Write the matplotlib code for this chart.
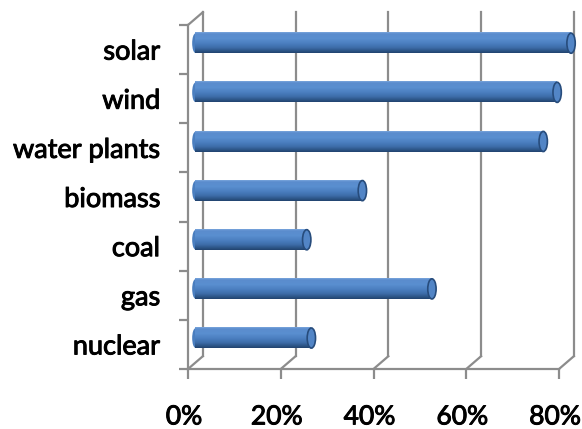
import numpy as np
import matplotlib
matplotlib.use("Agg")
import matplotlib.pyplot as plt
import matplotlib.transforms as mtransforms
import matplotlib.patheffects as pe
from matplotlib.patches import Ellipse
from matplotlib.ticker import FixedLocator

# données (de bas en haut)
categories = ["nuclear", "gas", "coal", "biomass", "water plants", "wind", "solar"]
values = [25, 51, 24, 36, 75, 78, 81]
x_ticks = [0, 20, 40, 60, 80]
x_labels = ["0%", "20%", "40%", "60%", "80%"]

plt.rcParams['font.family'] = ['Lato', 'DejaVu Sans']

W, H = 582, 429
fig = plt.figure(figsize=(W / 100, H / 100), dpi=100)
ax = fig.add_axes([188 / W, 1 - 369 / H, (559 - 188) / W, (369 - 25) / H])

n = len(categories)
y0, y1 = -0.5, n - 0.5
xmax = 80
# profondeur du "3D" en unités de données
dx, dy = 3.2, 0.26
grid_col = "#8c8c8c"
lw = 1.6

# mur du fond : lignes verticales de la grille
for v in x_ticks:
    ax.plot([v + dx, v + dx], [y0 + dy, y1 + dy], color=grid_col, lw=lw,
            clip_on=False, zorder=1)
    # diagonales du sol
    ax.plot([v, v + dx], [y0, y0 + dy], color=grid_col, lw=lw,
            clip_on=False, zorder=1)
# diagonale en haut à gauche
ax.plot([0, dx], [y1, y1 + dy], color=grid_col, lw=lw, clip_on=False, zorder=1)

# dégradé vertical du cylindre (haut -> bas)
stops = [0.0, 0.08, 0.3, 0.55, 0.75, 0.9, 1.0]
cols = ["#7aa5dc", "#5a8ccd", "#5a8fd0", "#4a7ebf", "#3d6ca8", "#2c5486", "#22446f"]
rgb = np.array([matplotlib.colors.to_rgb(c) for c in cols])
t = np.linspace(0, 1, 60)
grad = np.stack([np.interp(t, stops, rgb[:, k]) for k in range(3)], axis=1)
grad = grad[:, None, :]

h = 0.41
for i, val in enumerate(values):
    yc = i + dy / 2
    xs = dx / 2
    xe = val + dx / 2
    ax.add_patch(Ellipse((xs, yc), 1.4, h * 0.97, facecolor="#4a7ebf",
                         edgecolor="none", zorder=3, clip_on=False))
    im = ax.imshow(grad, extent=[xs, xe, yc - h / 2, yc + h / 2], aspect="auto",
                   zorder=4, interpolation="bilinear")
    im.set_clip_on(False)
    ax.add_patch(Ellipse((xe, yc), 1.8, h, facecolor="#5285c6",
                         edgecolor="#274c7c", lw=1.2, zorder=5, clip_on=False))

ax.set_xlim(0, xmax)
ax.set_ylim(y0, y1)

for s in ["top", "right"]:
    ax.spines[s].set_visible(False)
for s in ["left", "bottom"]:
    ax.spines[s].set_color(grid_col)
    ax.spines[s].set_linewidth(lw)
    ax.spines[s].set_zorder(6)

ax.set_xticks(x_ticks)
ax.set_xticklabels(x_labels)
ax.set_yticks(range(n))
ax.set_yticklabels(categories)
ax.yaxis.set_minor_locator(FixedLocator(np.arange(y0, y1 + 0.01, 1)))
ax.tick_params(axis="y", which="major", length=0, pad=20, labelsize=19.5,
               labelcolor="#000000")
ax.tick_params(axis="y", which="minor", length=6.5, width=lw, color=grid_col)
ax.tick_params(axis="x", which="major", length=7.5, width=lw, color=grid_col,
               pad=18, labelsize=19, labelcolor="#000000")
shift = mtransforms.ScaledTranslation(-4 / 100, 0, fig.dpi_scale_trans)
for lab in ax.get_xticklabels():
    lab.set_transform(lab.get_transform() + shift)
# texte un peu plus épais, comme dans l'original
for lab in ax.get_xticklabels() + ax.get_yticklabels():
    lab.set_path_effects([pe.withStroke(linewidth=0.7, foreground="#000000")])

fig.savefig("out.png", dpi=100)
